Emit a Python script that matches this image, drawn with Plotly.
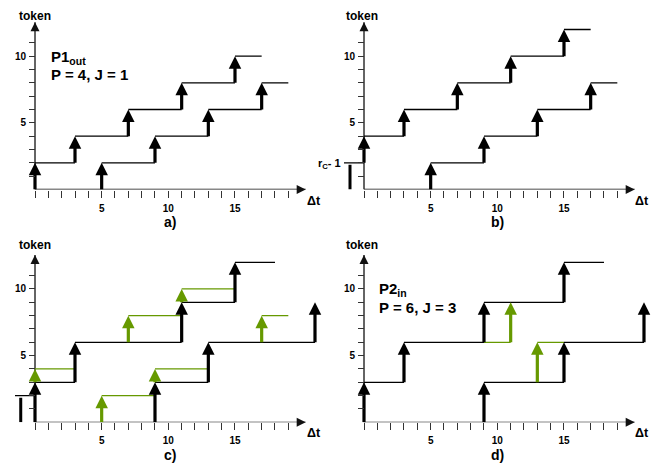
import plotly.graph_objects as go

# The page body adds an 8px margin, so the figure is drawn 8px smaller and shifted.
OFF = 8
W, H = 670 - 2 * OFF, 471 - 2 * OFF
X_RANGE = [-2.0, 21.6]
Y_RANGE = [0, 12.9]
X_AXIS_END = 20.3
Y_AXIS_END = 12.55
GREEN = '#669900'
BLACK = '#000000'
FONT = 'Liberation Sans, Arial, sans-serif'

# ---------------- data ----------------
# tick labels
x_tick_labels = [5, 10, 15]
x_minor_ticks = [v for v in range(0, 20) if v not in x_tick_labels]
y_tick_labels = [5, 10]
y_minor_ticks = [v for v in range(1, 12) if v not in y_tick_labels]

# panel a)  P1out, P = 4, J = 1
a_arrow_t    = [0, 3, 7, 11, 15, 5, 9, 13, 17]
a_arrow_from = [0, 2, 4, 6, 8, 0, 2, 4, 6]
a_arrow_to   = [2, 4, 6, 8, 10, 2, 4, 6, 8]
a_level      = [2, 4, 6, 8, 10, 2, 4, 6, 8]
a_level_from = [0, 3, 7, 11, 15, 5, 9, 13, 17]
a_level_to   = [3, 7, 11, 15, 17, 9, 13, 17, 19]

# panel b)
b_arrow_t    = [0, 3, 7, 11, 15, 5, 9, 13, 17]
b_arrow_from = [2, 4, 6, 8, 10, 0, 2, 4, 6]
b_arrow_to   = [4, 6, 8, 10, 12, 2, 4, 6, 8]
b_level      = [2, 4, 6, 8, 10, 12, 2, 4, 6, 8]
b_level_from = [-1.5, 0, 3, 7, 11, 15, 5, 9, 13, 17]
b_level_to   = [0, 3, 7, 11, 15, 17, 9, 13, 17, 19]
b_bracket_x, b_bracket_from, b_bracket_to = [-1.05], [0], [1.85]

# panel c)
c_black_t    = [0, 3, 11, 15, 9, 13, 21]
c_black_from = [0, 3, 6, 9, 0, 3, 6]
c_black_to   = [3, 6, 9, 12, 3, 6, 9]
c_black_level      = [3, 6, 9, 12, 3, 6, 2]
c_black_level_from = [0, 3, 11, 15, 9, 13, -1.5]
c_black_level_to   = [3, 11, 15, 18, 13, 21, 0]
c_green_t    = [0, 7, 11, 5, 9, 17]
c_green_from = [3, 6, 9, 0, 3, 6]
c_green_to   = [4, 8, 10, 2, 4, 8]
c_green_level      = [4, 8, 10, 2, 4, 8]
c_green_level_from = [0, 7, 11, 5, 9, 17]
c_green_level_to   = [3, 11, 15, 9, 13, 19]
c_bracket_x, c_bracket_from, c_bracket_to = [-1.07], [0], [1.85]

# panel d)  P2in, P = 6, J = 3
d_black_t    = [0, 3, 9, 15, 9, 15, 21]
d_black_from = [0, 3, 6, 9, 0, 3, 6]
d_black_to   = [3, 6, 9, 12, 3, 6, 9]
d_black_level      = [3, 6, 9, 12, 3, 6]
d_black_level_from = [0, 3, 9, 15, 9, 15]
d_black_level_to   = [3, 9, 15, 18, 15, 21]
d_green_t    = [11, 13]
d_green_from = [6, 3]
d_green_to   = [9, 6]
d_green_level      = [6, 6]
d_green_level_from = [9, 13]
d_green_level_to   = [11, 15]

# ---------------- helpers ----------------
def hsegs(levels, xs0, xs1):
    xs, ys = [], []
    for l, a, b in zip(levels, xs0, xs1):
        xs += [a, b, None]
        ys += [l, l, None]
    return xs, ys

def vsegs(ts, y0, y1, shorten=0.0):
    xs, ys = [], []
    for t, a, b in zip(ts, y0, y1):
        xs += [t, t, None]
        ys += [a, b - shorten, None]
    return xs, ys

fig = go.Figure()

def add_levels(levels, xs0, xs1, color, ax):
    xs, ys = hsegs(levels, xs0, xs1)
    fig.add_trace(go.Scatter(x=xs, y=ys, mode='lines', line=dict(color=color, width=1.3),
                             xaxis='x' + ax, yaxis='y' + ax, hoverinfo='skip', showlegend=False))

def add_arrows(ts, y0, y1, color, ax):
    xs, ys = vsegs(ts, y0, y1, shorten=0.5)
    fig.add_trace(go.Scatter(x=xs, y=ys, mode='lines', line=dict(color=color, width=3.2),
                             xaxis='x' + ax, yaxis='y' + ax, hoverinfo='skip', showlegend=False))
    fig.add_trace(go.Scatter(x=ts, y=y1, mode='markers',
                             marker=dict(symbol='arrow-up', size=12.5, color=color),
                             xaxis='x' + ax, yaxis='y' + ax, hoverinfo='skip', showlegend=False,
                             cliponaxis=False))

def add_bracket(xb, y0, y1, ax):
    xs, ys = vsegs(xb, y0, y1)
    fig.add_trace(go.Scatter(x=xs, y=ys, mode='lines', line=dict(color=BLACK, width=3),
                             xaxis='x' + ax, yaxis='y' + ax, hoverinfo='skip', showlegend=False))

def add_axes(ax):
    fig.add_trace(go.Scatter(x=[0, X_AXIS_END], y=[0, 0], mode='lines',
                             line=dict(color='#111', width=1.3),
                             xaxis='x' + ax, yaxis='y' + ax, hoverinfo='skip', showlegend=False))
    fig.add_trace(go.Scatter(x=[X_AXIS_END], y=[0], mode='markers',
                             marker=dict(symbol='arrow-right', size=9, color='#111'),
                             xaxis='x' + ax, yaxis='y' + ax, hoverinfo='skip', showlegend=False,
                             cliponaxis=False))
    fig.add_trace(go.Scatter(x=[0, 0], y=[0, Y_AXIS_END], mode='lines',
                             line=dict(color='#111', width=1.3),
                             xaxis='x' + ax, yaxis='y' + ax, hoverinfo='skip', showlegend=False))
    fig.add_trace(go.Scatter(x=[0], y=[Y_AXIS_END], mode='markers',
                             marker=dict(symbol='arrow-up', size=9, color='#111'),
                             xaxis='x' + ax, yaxis='y' + ax, hoverinfo='skip', showlegend=False,
                             cliponaxis=False))

# panel a -> axes '' ; b -> '2' ; c -> '3' ; d -> '4'
add_axes('')
add_levels(a_level, a_level_from, a_level_to, BLACK, '')
add_arrows(a_arrow_t, a_arrow_from, a_arrow_to, BLACK, '')

add_axes('2')
add_levels(b_level, b_level_from, b_level_to, BLACK, '2')
add_bracket(b_bracket_x, b_bracket_from, b_bracket_to, '2')
add_arrows(b_arrow_t, b_arrow_from, b_arrow_to, BLACK, '2')

add_axes('3')
add_levels(c_green_level, c_green_level_from, c_green_level_to, GREEN, '3')
add_levels(c_black_level, c_black_level_from, c_black_level_to, BLACK, '3')
add_bracket(c_bracket_x, c_bracket_from, c_bracket_to, '3')
add_arrows(c_black_t, c_black_from, c_black_to, BLACK, '3')
add_arrows(c_green_t, c_green_from, c_green_to, GREEN, '3')

add_axes('4')
add_levels(d_green_level, d_green_level_from, d_green_level_to, GREEN, '4')
add_levels(d_black_level, d_black_level_from, d_black_level_to, BLACK, '4')
add_arrows(d_black_t, d_black_from, d_black_to, BLACK, '4')
add_arrows(d_green_t, d_green_from, d_green_to, GREEN, '4')

# ---------------- layout ----------------
U = 13.333
# axis origins in page pixels
origins = {'': (35, 189.5), '2': (364, 189.5), '3': (35, 422.3), '4': (364, 422.3)}
tickfont = dict(family=FONT, size=10, color='black', weight='bold')
layout = dict(width=W, height=H, margin=dict(l=0, r=0, t=0, b=0, pad=0),
              plot_bgcolor='white', paper_bgcolor='white', showlegend=False)
for ax, (ox, oy) in origins.items():
    ox -= OFF
    oy -= OFF
    left = max(0.0, ox + X_RANGE[0] * U)
    right = min(W, ox + X_RANGE[1] * U)
    top = oy - Y_RANGE[1] * U
    xr = [(left - ox) / U, (right - ox) / U]
    layout['xaxis' + ax] = dict(domain=[left / W, right / W], range=xr,
                                anchor='y' + ax, showgrid=False, zeroline=False, showline=False,
                                tickmode='array', tickvals=x_tick_labels,
                                ticktext=[str(v) for v in x_tick_labels],
                                ticks='outside', ticklen=7, tickwidth=1, tickcolor='#333',
                                minor=dict(tickmode='array', tickvals=x_minor_ticks, ticks='outside',
                                           ticklen=7, tickwidth=1, tickcolor='#333', showgrid=False),
                                tickfont=tickfont, ticklabelstandoff=2, fixedrange=True)
    layout['yaxis' + ax] = dict(domain=[1 - oy / H, 1 - top / H], range=Y_RANGE,
                                anchor='free', position=ox / W, showgrid=False,
                                zeroline=False, showline=False,
                                tickmode='array', tickvals=y_tick_labels,
                                ticktext=[str(v) for v in y_tick_labels],
                                ticks='outside', ticklen=6, tickwidth=1, tickcolor='#333',
                                minor=dict(tickmode='array', tickvals=y_minor_ticks, ticks='outside',
                                           ticklen=6, tickwidth=1, tickcolor='#333', showgrid=False),
                                tickfont=tickfont, ticklabelstandoff=1, fixedrange=True)
fig.update_layout(**layout)

def label(text, px, py, size, xanchor='center'):
    fig.add_annotation(text=text, x=(px - OFF) / W, y=1 - (py - OFF) / H,
                       xref='paper', yref='paper',
                       showarrow=False, xanchor=xanchor, yanchor='middle',
                       font=dict(family=FONT, size=size, color='black', weight='bold'))

for px, py in [(35, 16), (362, 16), (35, 245), (362, 245)]:
    label('token', px, py, 12)
for px, py in [(314, 201), (642, 201), (314, 433), (642, 433)]:
    label('Δt', px, py, 12.5)
for txt, px, py in [('a)', 170, 222), ('b)', 497, 222), ('c)', 170, 455), ('d)', 497, 455)]:
    label(txt, px, py, 14)

label('P1<sub>out</sub>', 49, 57, 15, xanchor='left')
label('P = 4, J = 1', 49, 74, 15, xanchor='left')
label('P2<sub>in</sub>', 377, 289, 15, xanchor='left')
label('P = 6, J = 3', 377, 307, 15, xanchor='left')
label('r<sub>C</sub>- 1', 343, 164, 11, xanchor='right')

fig.write_html('out.html')
